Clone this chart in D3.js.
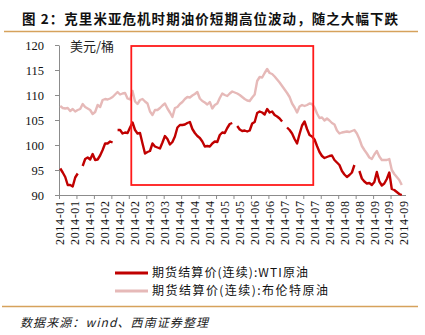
<!DOCTYPE html>
<html>
<head>
<meta charset="utf-8">
<script src="https://cdn.jsdelivr.net/npm/d3@7"></script>
<style>
  html, body { margin: 0; padding: 0; background: #fff; }
  svg { display: block; }
</style>
</head>
<body>
<svg id="chart" width="425" height="335"></svg>
<script>
// ---- data ----
const titleText = "图 2：克里米亚危机时期油价短期高位波动，随之大幅下跌";
const unitLabel = "美元/桶";
const sourceText = "数据来源：wind、西南证券整理";
const seriesNames = ["期货结算价(连续):WTI原油", "期货结算价(连续):布伦特原油"];

// category-axis labels (one every 6 trading points)
const tickLabels = [
  "2014-01","2014-01","2014-01","2014-02","2014-02","2014-02",
  "2014-03","2014-03","2014-04","2014-04","2014-04","2014-05",
  "2014-05","2014-06","2014-06","2014-07","2014-07","2014-07",
  "2014-08","2014-08","2014-08","2014-09","2014-09","2014-09"
];
const yTicks = [90, 95, 100, 105, 110, 115, 120];

// WTI settlement price, USD/bbl (null = no settlement that day)
const wti = [
  95.3, 94.5, 93.6, 92.0, 92.0, 91.7, 93.5, 94.3, null, 95.8,
  97.2, 97.5, 97.1, 98.2, 97.0, 97.1, 97.9, 99.0, 100.3, 100.3,
  100.7, 100.5, null, 103.0, 103.0, 102.3, 102.5, 102.4, 103.5, 104.5,
  103.0, 102.3, 102.4, 100.3, 98.3, 98.6, 98.8, 100.3, 99.7, 99.5,
  99.3, 100.5, 101.8, 101.2, 100.1, 100.6, 101.7, 103.5, 104.0, 104.0,
  104.1, 104.4, 104.6, 103.2, 102.4, 101.8, 101.4, 100.7, 99.7, 99.8,
  99.7, 100.3, 100.7, 100.6, 102.0, 102.5, 102.4, 103.4, 104.2, 104.4,
  null, 103.8, 103.1, 102.8, 102.9, 102.7, 102.9, 104.3, 104.6, 106.4,
  106.7, 106.5, 106.1, 107.2, 106.5, 106.7, 106.0, 105.7, 105.3, 104.7,
  null, 103.5, 103.0, 102.3, 101.2, 100.3, 102.2, 103.9, 104.7, 103.2,
  102.0, 101.7, 101.1, 99.8, 98.6, 97.8, 97.4, 97.6, 97.8, 97.9,
  97.0, 96.5, 96.0, 94.8, 94.1, 93.6, 94.0, 94.5, 96.0, null,
  94.8, 93.3, 92.7, 92.3, 92.4, 92.0, 92.6, 94.6, 92.7, 91.9,
  92.3, 93.2, 94.5, 91.2, 91.0, 90.6, 90.2, 90.0, null
];

// Brent settlement price, USD/bbl
const brent = [
  107.8, 107.4, 107.3, 107.4, 106.8, 107.2, 106.7, 107.0, 107.2, 108.2,
  107.6, 107.3, 107.0, 106.2, 106.6, 108.0, 107.6, 109.0, 109.2, 109.1,
  109.3, 109.6, 110.1, 110.6, 110.1, 110.3, 110.4, 109.3, 109.1, 110.8,
  108.7, 108.2, 109.0, 109.2, 108.7, 108.3, 106.7, 106.0, 107.0, 107.0,
  107.4, 107.9, 108.3, 107.3, 106.5, 105.6, 107.4, 107.6, 108.2, 108.6,
  109.2, 109.6, 109.5, 109.9, 110.2, 110.6, 109.3, 108.8, 108.5, 108.1,
  108.6, 107.3, 108.0, 108.3, 109.4, 110.3, 110.0, 109.8, 110.3, 110.7,
  110.5, 110.3, 110.0, 109.6, 109.2, 108.9, 108.8, 109.5, 110.1, 112.8,
  113.6, 113.5, 114.4, 115.2, 114.4, 114.2, 113.7, 113.1, 112.5, 111.8,
  111.1, 110.4, 109.6, 108.3, 107.5, 106.5, 107.7, 108.0, 107.8, 108.0,
  108.3, 108.2, 107.5, 106.3, 105.4, 105.5, 104.9, 105.3, 104.9, 104.4,
  104.1, 102.9, 102.3, 102.5, 102.6, 102.7, 102.6, 102.8, 103.0, 102.3,
  101.2, 99.8, 99.0, 98.3, 97.5, 97.2, 98.1, 98.8, 97.7, 97.0,
  97.0, 97.0, 97.2, 95.0, 94.2, 93.6, 93.0, 92.0, null
];

// highlighted window around the Crimea crisis (category span and price span)
const crisisWindow = { fromCat: 29, toCat: 101, low: 92, high: 119.8 };

// ---- layout ----
const svg = d3.select("#chart");
const plot = { left: 59, right: 405.5, top: 45, bottom: 195 };
const N = wti.length;
const labelEvery = 6, tickEvery = 7;

const cjk = "'Noto Sans CJK SC', 'Noto Sans', sans-serif";
const serif = "'Liberation Serif', 'DejaVu Serif', serif";

const x = d3.scaleBand().domain(d3.range(N)).range([plot.left, plot.right]).padding(0);
const bw = x.bandwidth();
const cx = i => x(i) + bw / 2;
const xEdge = d3.scaleLinear().domain([0, N]).range([plot.left, plot.right]);
const y = d3.scaleLinear().domain([90, 120]).range([plot.bottom, plot.top]);

// title + rules
svg.append("text")
  .attr("x", 22).attr("y", 24)
  .attr("font-family", cjk).attr("font-weight", "bold").attr("font-size", 13.5)
  .attr("fill", "#111")
  .attr("textLength", 376).attr("lengthAdjust", "spacing")
  .text(titleText);
svg.append("line").attr("x1", 4).attr("x2", 418).attr("y1", 31.5).attr("y2", 31.5)
  .attr("stroke", "#d6a25c").attr("stroke-width", 1.5);
svg.append("line").attr("x1", 2).attr("x2", 418).attr("y1", 306.5).attr("y2", 306.5)
  .attr("stroke", "#d6a25c").attr("stroke-width", 1.5);
svg.append("text")
  .attr("x", 20).attr("y", 327)
  .attr("font-family", cjk).attr("font-style", "italic").attr("font-size", 12)
  .attr("fill", "#222")
  .attr("textLength", 188).attr("lengthAdjust", "spacing")
  .text(sourceText);

// y axis
const yAxis = svg.append("g")
  .attr("transform", `translate(${plot.left},0)`)
  .call(d3.axisLeft(y).tickValues(yTicks).tickSize(4).tickSizeOuter(0).tickPadding(11));
yAxis.select(".domain").attr("stroke", "#8c8c8c");
yAxis.selectAll(".tick line").attr("stroke", "#8c8c8c");
yAxis.selectAll(".tick text")
  .attr("font-family", serif).attr("font-size", 12.5).attr("fill", "#111");

svg.append("text")
  .attr("x", 70).attr("y", 51)
  .attr("font-family", cjk).attr("font-size", 13).attr("fill", "#222")
  .text(unitLabel);

// x axis: tick marks on category boundaries
const xTickAxis = svg.append("g")
  .attr("transform", `translate(0,${plot.bottom})`)
  .call(d3.axisBottom(xEdge)
    .tickValues(d3.range(0, N, tickEvery))
    .tickSize(4).tickSizeOuter(0).tickFormat(""));
xTickAxis.select(".domain").attr("stroke", "#8c8c8c");
xTickAxis.selectAll(".tick line").attr("stroke", "#8c8c8c");

// x axis: rotated date labels on category centres
const xLabelAxis = svg.append("g")
  .attr("transform", `translate(0,${plot.bottom})`)
  .call(d3.axisBottom(x)
    .tickValues(d3.range(0, N, labelEvery))
    .tickSize(0)
    .tickFormat(i => tickLabels[i / labelEvery]));
xLabelAxis.select(".domain").remove();
xLabelAxis.selectAll(".tick text")
  .attr("font-family", serif).attr("font-size", 12).attr("fill", "#111")
  .attr("transform", "rotate(-90)")
  .attr("text-anchor", "end")
  .attr("x", -6).attr("y", 0).attr("dy", "0.35em")
  .attr("textLength", 44).attr("lengthAdjust", "spacing");

// series lines
const line = d3.line()
  .defined(d => d != null)
  .x((d, i) => cx(i))
  .y(d => y(d));

const series = [
  { name: seriesNames[1], values: brent, color: "#e6b9b8" },
  { name: seriesNames[0], values: wti, color: "#c00000" }
];
svg.append("g").selectAll("path")
  .data(series)
  .join("path")
  .attr("d", s => line(s.values))
  .attr("fill", "none")
  .attr("stroke", s => s.color)
  .attr("stroke-width", 2.4)
  .attr("stroke-linejoin", "round");

// crisis window box
svg.append("rect")
  .attr("x", x(crisisWindow.fromCat))
  .attr("y", y(crisisWindow.high))
  .attr("width", x(crisisWindow.toCat) + bw - x(crisisWindow.fromCat))
  .attr("height", y(crisisWindow.low) - y(crisisWindow.high))
  .attr("fill", "none")
  .attr("stroke", "#ff1a1a")
  .attr("stroke-width", 1.8);

// legend
const legend = svg.append("g");
const legendItems = [
  { name: seriesNames[0], color: "#c00000", yy: 273, len: 156 },
  { name: seriesNames[1], color: "#e6b9b8", yy: 291, len: 176 }
];
legendItems.forEach(it => {
  legend.append("line")
    .attr("x1", 115).attr("x2", 148).attr("y1", it.yy).attr("y2", it.yy)
    .attr("stroke", it.color).attr("stroke-width", 3);
  legend.append("text")
    .attr("x", 152).attr("y", it.yy).attr("dy", "0.36em")
    .attr("font-family", cjk).attr("font-size", 12).attr("fill", "#111")
    .attr("textLength", it.len).attr("lengthAdjust", "spacing")
    .text(it.name);
});
</script>
</body>
</html>
